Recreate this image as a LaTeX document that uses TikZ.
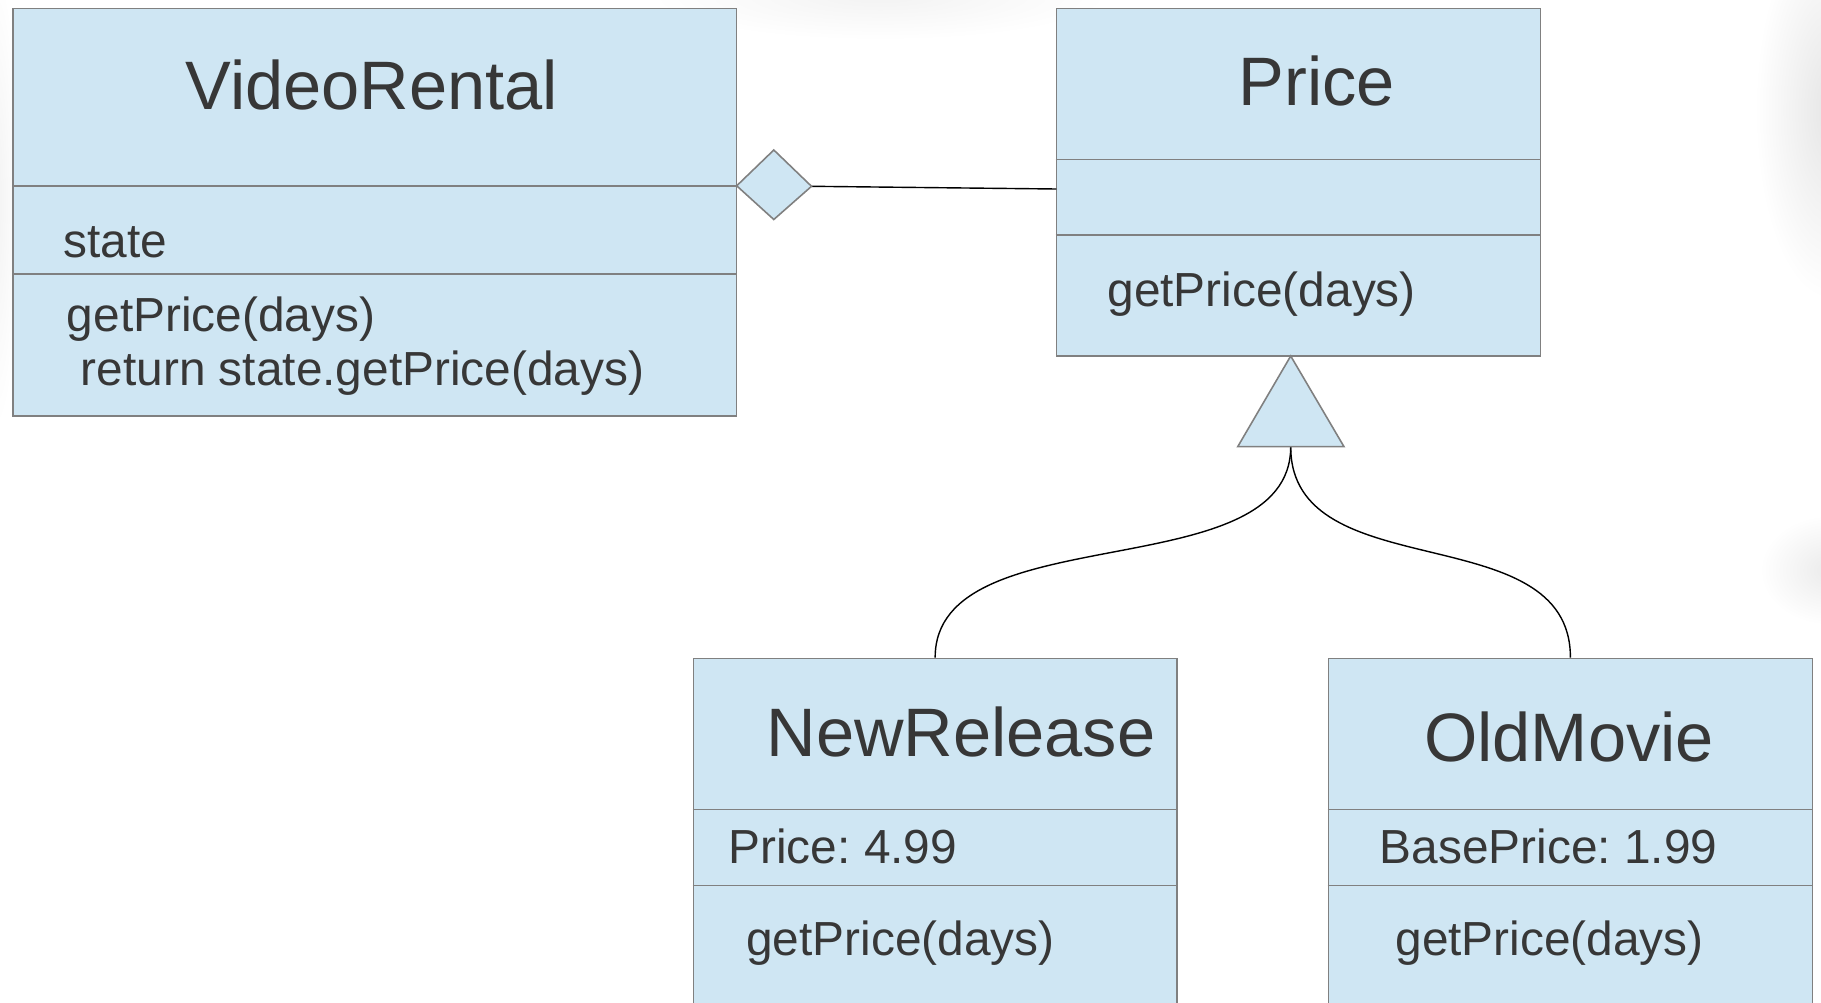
\documentclass[tikz,border=0pt]{standalone}
\usepackage{fontspec}
\setmainfont{Liberation Sans}
\usetikzlibrary{fit}
\definecolor{umlfill}{RGB}{207,230,243}
\definecolor{umlline}{RGB}{128,128,128}
\definecolor{umltext}{RGB}{55,55,55}
\frenchspacing

\begin{document}
\begin{tikzpicture}[x=0.01cm, y=-0.01cm,
  classbox/.style={draw=umlline, fill=umlfill, line width=0.45pt, inner sep=0pt},
  divider/.style={draw=umlline, line width=0.45pt},
  classname/.style={text=umltext, font=\fontsize{19.5pt}{23pt}\selectfont, anchor=base, inner sep=0pt},
  member/.style={text=umltext, font=\fontsize{13.6pt}{16pt}\selectfont, anchor=base west, inner sep=0pt},
  link/.style={draw=black, line width=0.4pt}]

\useasboundingbox (0,0) rectangle (1821,1003);
\clip (0,0) rectangle (1821,1003);
\fill[white] (0,0) rectangle (1821,1003);

% soft shadows along the edges of the sheet
\shade[inner color=black!10, outer color=white] (1830,110) ellipse [x radius=75, y radius=190];
\shade[inner color=black!8, outer color=white] (1830,570) ellipse [x radius=70, y radius=55];
\shade[inner color=black!5, outer color=white] (880,-5) ellipse [x radius=230, y radius=45];
\shade[inner color=black!5, outer color=white] (-5,200) ellipse [x radius=25, y radius=230];

% VideoRental
\node[classbox, fit={(12.8,8.3) (736.5,415.8)}] (vr) {};
\draw[divider] (vr.west |- 0,185.8) -- (vr.east |- 0,185.8);
\draw[divider] (vr.west |- 0,274.1) -- (vr.east |- 0,274.1);
\node[classname] (vrname) at (372,109.5) {VideoRental};
\node[member] (vrstate) at (62.7,257.8) {state};
\node[member] (vrop) at (66.2,331) {getPrice(days)};
\node[member] (vrbody) at (80.1,385.6) {return state.getPrice(days)};

% Price
\node[classbox, fit={(1056.3,8.3) (1540.5,356)}] (price) {};
\draw[divider] (price.west |- 0,159.3) -- (price.east |- 0,159.3);
\draw[divider] (price.west |- 0,235) -- (price.east |- 0,235);
\node[classname] (pricename) at (1316.7,105.5) {Price};
\node[member] (priceop) at (1106.8,306) {getPrice(days)};

% NewRelease
\node[classbox, fit={(693.3,658.3) (1177,1030)}] (nr) {};
\draw[divider] (nr.west |- 0,809.3) -- (nr.east |- 0,809.3);
\draw[divider] (nr.west |- 0,885.3) -- (nr.east |- 0,885.3);
\node[classname] (nrname) at (961,756) {NewRelease};
\node[member] (nrattr) at (727.8,863) {Price: 4.99};
\node[member] (nrop) at (745.5,955) {getPrice(days)};

% OldMovie
\node[classbox, fit={(1328.5,658.3) (1812.3,1030)}] (om) {};
\draw[divider] (om.west |- 0,809.3) -- (om.east |- 0,809.3);
\draw[divider] (om.west |- 0,885.3) -- (om.east |- 0,885.3);
\node[classname] (omname) at (1569,761) {OldMovie};
\node[member] (omattr) at (1379,863) {BasePrice: 1.99};
\node[member] (omop) at (1394.7,955) {getPrice(days)};

% aggregation: VideoRental holds a Price state
\coordinate (dl) at (736.7,185.8);
\coordinate (dt) at (773.8,150);
\coordinate (dr) at (811.5,186.3);
\coordinate (db) at (773.8,219.5);
\coordinate (pricejoin) at (1056.3,189);
\draw[link] (dr) -- (pricejoin);
\draw[classbox] (dl) -- (dt) -- (dr) -- (db) -- cycle;

% generalization: NewRelease and OldMovie extend Price
\coordinate (triapex) at (1290.7,356);
\coordinate (trileft) at (1237.7,446.7);
\coordinate (triright) at (1344,446.7);
\coordinate (tribase) at (1290.7,446.7);
\draw[link] (tribase) .. controls +(0,143) and +(0,-143) .. (nr.north);
\draw[link] (tribase) .. controls +(0,143) and +(0,-143) .. (om.north);
\draw[classbox] (triapex) -- (trileft) -- (triright) -- cycle;
\end{tikzpicture}
\end{document}
